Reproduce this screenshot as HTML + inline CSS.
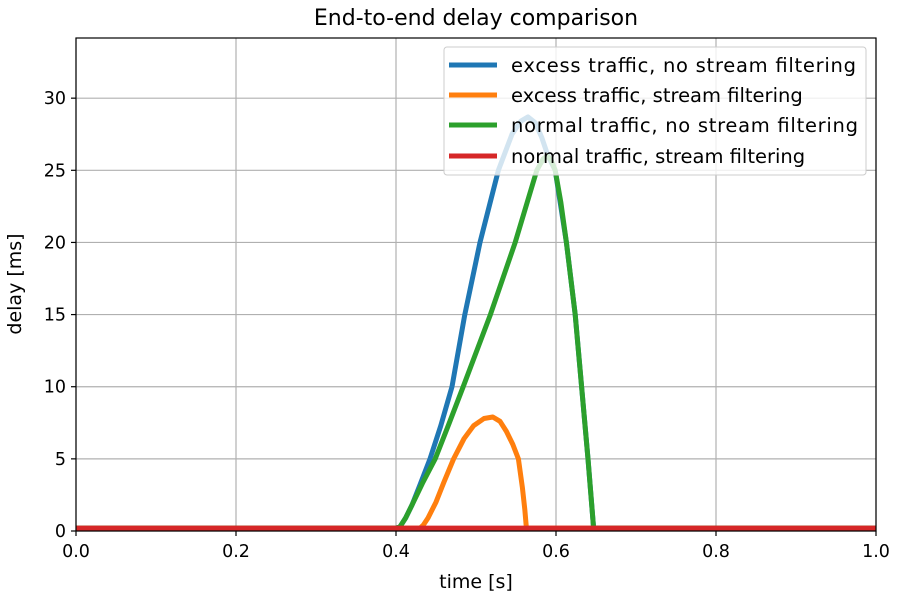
<!DOCTYPE html>
<html><head><meta charset="utf-8"><style>
body{margin:0;background:#fff}
svg text{font-family:"DejaVu Sans","Liberation Sans",sans-serif;fill:#000}
</style></head><body>
<svg id="chart" width="900" height="600" xmlns="http://www.w3.org/2000/svg">
<rect width="900" height="600" fill="#fff"/>
<g id="grid"></g>
<g id="series"></g>
<rect x="76" y="38" width="800" height="493" fill="none" stroke="#000" stroke-width="1.2"/>
<g id="ticks"></g>
<text x="476" y="25" font-size="22" text-anchor="middle">End-to-end delay comparison</text>
<text x="476" y="588" font-size="19" text-anchor="middle">time [s]</text>
<text transform="translate(21,284) rotate(-90)" font-size="19" text-anchor="middle">delay [ms]</text>
<g>
<rect x="444" y="47" width="422" height="128" rx="3" fill="#fff" fill-opacity="0.8" stroke="#ccc"/>
<line x1="449" y1="65" x2="497" y2="65" stroke="#1f77b4" stroke-width="5"/>
<text x="511" y="72" font-size="19.5" textLength="345">excess traffic, no stream filtering</text>
<line x1="449" y1="95" x2="497" y2="95" stroke="#ff7f0e" stroke-width="5"/>
<text x="511" y="102" font-size="19.5">excess traffic, stream filtering</text>
<line x1="449" y1="125" x2="497" y2="125" stroke="#2ca02c" stroke-width="5"/>
<text x="511" y="132" font-size="19.5" textLength="347">normal traffic, no stream filtering</text>
<line x1="449" y1="156" x2="497" y2="156" stroke="#d62728" stroke-width="5"/>
<text x="511" y="163" font-size="19.5">normal traffic, stream filtering</text>
</g>
</svg>
<script>
const xTicks=[0,0.2,0.4,0.6,0.8,1.0];
const xTickLabels=["0.0","0.2","0.4","0.6","0.8","1.0"];
const yTicks=[0,5,10,15,20,25,30];
const blueT=[0,0.4,0.405,0.412,0.42,0.43,0.4425,0.456,0.47,0.486,0.505,0.528,0.545,0.556,0.565,0.574,0.582,0.59,0.599,0.613,0.624,0.632,0.64,0.647,0.65,1];
const blueV=[0.2,0.2,0.3,0.9,1.8,3.2,5,7.3,10,15,20,25,27.5,28.4,28.7,28.3,27.3,26,25,20,15,10,5,0.2,0.2,0.2];
const orangeT=[0,0.43,0.434,0.44,0.45,0.46,0.472,0.485,0.497,0.51,0.521,0.53,0.538,0.546,0.553,0.558,0.561,0.563,0.57,1];
const orangeV=[0.2,0.2,0.4,0.9,2.0,3.4,5,6.4,7.3,7.8,7.9,7.6,6.9,6.0,5,3.0,1.5,0.2,0.2,0.2];
const greenT=[0,0.4,0.405,0.412,0.42,0.433,0.449,0.466,0.484,0.518,0.549,0.576,0.584,0.589,0.594,0.599,0.606,0.613,0.624,0.632,0.64,0.647,0.65,1];
const greenV=[0.2,0.2,0.3,0.9,1.8,3.3,5,7.4,10,15,20,25,25.8,26,25.7,25,22.8,20,15,10,5,0.2,0.2,0.2];
const redT=[0,1];
const redV=[0.2,0.2];
const X0=76,X1=876,Y0=531,PPU=493/34.17;
const xs=t=>X0+(X1-X0)*t, ys=v=>Y0-v*PPU;
const NS="http://www.w3.org/2000/svg";
function mk(tag,attrs,parent){const e=document.createElementNS(NS,tag);for(const k in attrs)e.setAttribute(k,attrs[k]);parent.appendChild(e);return e;}
const grid=document.getElementById('grid'),ticks=document.getElementById('ticks'),ser=document.getElementById('series');
xTicks.forEach((t,i)=>{
 const g=mk('line',{x1:xs(t),x2:xs(t),y1:38,y2:531,stroke:'#b0b0b0','stroke-width':1.2},grid);
 
 
 mk('line',{x1:xs(t),x2:xs(t),y1:531,y2:536,stroke:'#000','stroke-width':1.2},ticks);
 const l=mk('text',{x:xs(t),y:557,'font-size':17.5,'text-anchor':'middle'},ticks);l.textContent=xTickLabels[i];
 
 
});
yTicks.forEach(v=>{
 const g=mk('line',{x1:76,x2:876,y1:ys(v),y2:ys(v),stroke:'#b0b0b0','stroke-width':1.2},grid);
 
 
 mk('line',{x1:71,x2:76,y1:ys(v),y2:ys(v),stroke:'#000','stroke-width':1.2},ticks);
 const l=mk('text',{x:66,y:ys(v)+6,'font-size':17.5,'text-anchor':'end'},ticks);l.textContent=String(v);
 
 
});
function line(T,V,color,name){
 const d=T.map((t,i)=>(i?'L':'M')+xs(t).toFixed(1)+','+ys(V[i]).toFixed(1)).join('');
 const p=mk('path',{d:d,fill:'none',stroke:color,'stroke-width':5,'stroke-linejoin':'round'},ser);
 
 
}
line(blueT,blueV,'#1f77b4','series-excess-no-filter');
line(orangeT,orangeV,'#ff7f0e','series-excess-filter');
line(greenT,greenV,'#2ca02c','series-normal-no-filter');
line(redT,redV,'#d62728','series-normal-filter');
</script>
</body></html>
